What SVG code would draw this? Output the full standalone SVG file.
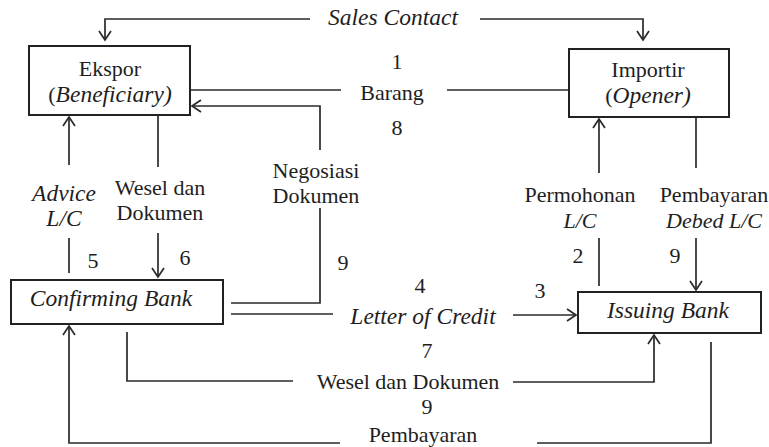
<svg xmlns="http://www.w3.org/2000/svg" width="769" height="447" viewBox="0 0 769 447" font-family="'Liberation Serif', 'Times New Roman', serif">
<style>
.box{fill:#fff;stroke:#222;stroke-width:2}
.t{font-family:"Liberation Serif","Times New Roman",serif;font-size:22px;fill:#1e1e1e;text-anchor:middle}
.i{font-style:italic;font-size:23.5px}
.s{font-size:22px}
.c{fill:none;stroke:#2a2a2a;stroke-width:1.7}
</style>
<defs>
<marker id="ah" markerUnits="userSpaceOnUse" markerWidth="12" markerHeight="14" refX="10" refY="7" orient="auto">
<path d="M1,1 L10,7 L1,13" fill="none" stroke="#2a2a2a" stroke-width="1.7"/>
</marker>
</defs>
<rect width="769" height="447" fill="#fff"/>
<g id="connectors">
<path class="c" d="M310,19 H105 V40" marker-end="url(#ah)"/>
<path class="c" d="M480,19 H643 V40" marker-end="url(#ah)"/>
<path class="c" d="M190,90 H341"/>
<path class="c" d="M447,90 H569"/>
<path class="c" d="M231,303 H320 V208"/>
<path class="c" d="M320,150 V106 H192" marker-end="url(#ah)"/>
<path class="c" d="M69,273 V238"/>
<path class="c" d="M69,165 V117" marker-end="url(#ah)"/>
<path class="c" d="M158,115 V167"/>
<path class="c" d="M158,233 V277" marker-end="url(#ah)"/>
<path class="c" d="M599,286 V238"/>
<path class="c" d="M599,173 V119" marker-end="url(#ah)"/>
<path class="c" d="M696,117 V168"/>
<path class="c" d="M696,238 V290" marker-end="url(#ah)"/>
<path class="c" d="M231,314 H333"/>
<path class="c" d="M513,315 H576" marker-end="url(#ah)"/>
<path class="c" d="M127,332 V381 H293"/>
<path class="c" d="M513,382 H654 V335" marker-end="url(#ah)"/>
<path class="c" d="M711,342 V443 H537"/>
<path class="c" d="M340,443 H69 V326" marker-end="url(#ah)"/>
</g>
<g id="labels">
<text class="t i" x="393" y="25">Sales Contact</text>
<text class="t" x="397" y="69">1</text>
<text class="t" x="392" y="100">Barang</text>
<text class="t" x="397" y="135">8</text>
<text class="t" x="316" y="178">Negosiasi</text>
<text class="t" x="316" y="203">Dokumen</text>
<text class="t" x="343" y="270">9</text>
<text class="t i" x="64" y="201">Advice</text>
<text class="t i" x="64" y="226">L/C</text>
<text class="t" x="93" y="268">5</text>
<text class="t" x="160" y="195">Wesel dan</text>
<text class="t" x="160" y="220">Dokumen</text>
<text class="t" x="185" y="265">6</text>
<text class="t" x="580" y="202">Permohonan</text>
<text class="t i s" x="580" y="228">L/C</text>
<text class="t" x="578" y="263">2</text>
<text class="t" x="714" y="202">Pembayaran</text>
<text class="t i s" x="714" y="228">Debed L/C</text>
<text class="t" x="675" y="263">9</text>
<text class="t" x="420" y="293">4</text>
<text class="t" x="540" y="298">3</text>
<text class="t i" x="423" y="324">Letter of Credit</text>
<text class="t" x="427" y="358">7</text>
<text class="t" x="408" y="389">Wesel dan Dokumen</text>
<text class="t" x="427" y="414">9</text>
<text class="t" x="423" y="442">Pembayaran</text>
</g>
<g id="ekspor">
<rect class="box" x="29" y="46" width="161" height="69"/>
<text class="t" x="110" y="76">Ekspor</text>
<text class="t" x="110" y="102">(<tspan class="i">Beneficiary)</tspan></text>
</g>
<g id="importir">
<rect class="box" x="569" y="49" width="160" height="68"/>
<text class="t" x="648" y="77">Importir</text>
<text class="t" x="648" y="103">(<tspan class="i">Opener)</tspan></text>
</g>
<g id="confirming-bank">
<rect class="box" x="11" y="280" width="212" height="44"/>
<text class="t i" x="111" y="306">Confirming Bank</text>
</g>
<g id="issuing-bank">
<rect class="box" x="578" y="292" width="183" height="41"/>
<text class="t i" x="668" y="318">Issuing Bank</text>
</g>
</svg>
